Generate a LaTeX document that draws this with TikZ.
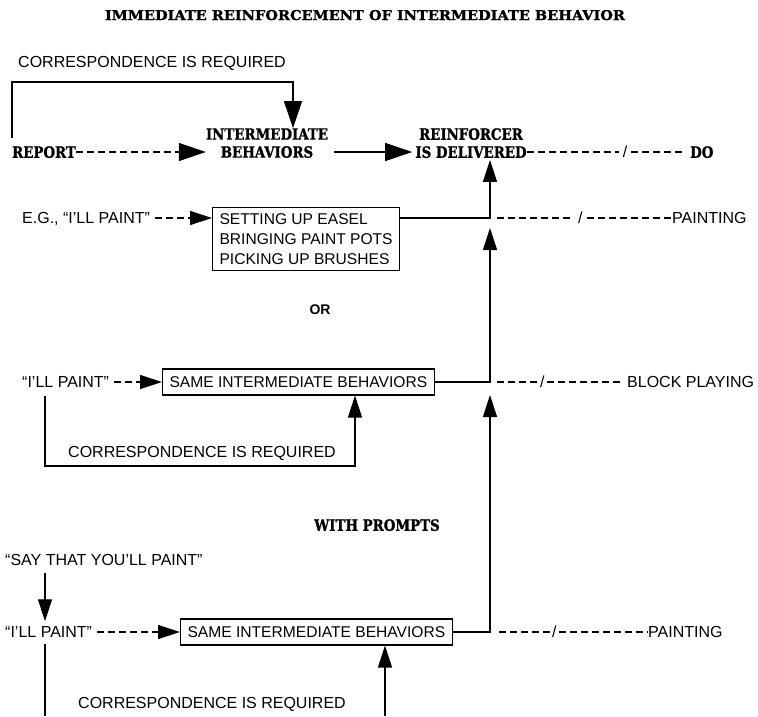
\documentclass[tikz,border=0pt]{standalone}
\usepackage{fontspec}
\setmainfont{Liberation Serif}
\setsansfont{Liberation Sans}
\newfontfamily\slab[FakeStretch=0.86,FakeBold=1.2]{DejaVu Serif}
\usetikzlibrary{arrows.meta}
\begin{document}
\begin{tikzpicture}[x=1pt,y={(0pt,-1pt)},
  every node/.style={inner sep=0pt, text depth=0pt},
  lbl/.style={font=\sffamily\fontsize{16}{20}\selectfont},
  hd/.style={font=\slab\bfseries\fontsize{15.5}{18}\selectfont, align=center},
  box/.style={draw, line width=1.1pt, font=\sffamily\fontsize{15.6}{20}\selectfont,
    align=left, inner xsep=7pt, inner ysep=6pt},
  onebox/.style={box, minimum height=26pt},
  wire/.style={line width=1.2pt},
  dashline/.style={line width=1.3pt, dash pattern=on 7pt off 4pt},
  bighead/.style={-{Triangle[length=27pt,width=18pt]}},
  head/.style={-{Triangle[length=22pt,width=14pt]}},
]
\useasboundingbox (0,0) rectangle (758,716);

% title
\node[font=\slab\bfseries\fontsize{12}{14}\selectfont] (title) at (365,15)
  {\resizebox{520pt}{10pt}{IMMEDIATE REINFORCEMENT OF INTERMEDIATE BEHAVIOR}};

% ---- general scheme ----
\node[lbl, anchor=west] (corrtop) at (18,62) {CORRESPONDENCE IS REQUIRED};
\node[hd, anchor=west] (report) at (12,152) {REPORT};
\node[hd] (ib) at (267,143) {INTERMEDIATE\\BEHAVIORS};
\node[hd] (reinf) at (471,143) {REINFORCER\\IS DELIVERED};
\node[font=\sffamily\fontsize{16}{18}\selectfont] (sl1) at (625,152) {/};
\node[hd, anchor=west] (do) at (690,152) {DO};

\coordinate (ctop) at (293,82);
\draw[wire, bighead] ([yshift=8pt]report.north west) |- (ctop) -- (ctop |- ib.north);
\draw[dashline, bighead] (report.east) -- (ib.west |- report);
\draw[wire, bighead] ([xshift=6pt]ib.east |- report) -- ([xshift=-3pt]reinf.west |- report);
\draw[dashline] (reinf.east |- report) -- ([xshift=-4pt]sl1.west);
\draw[dashline] ([xshift=4pt]sl1.east) -- ([xshift=-6pt]do.west);

% ---- example ----
\node[lbl, anchor=west] (eg) at (22,218) {E.G., “I’LL PAINT”};
\node[box, anchor=north west] (box1) at (212,207)
  {SETTING UP EASEL\\BRINGING PAINT POTS\\PICKING UP BRUSHES};
\coordinate (j1) at (490,218);
\draw[dashline, head] ([xshift=5pt]eg.east) -- (box1.west |- eg);
\draw[wire, head] (j1 -| box1.east) -- (j1) -- ([yshift=-2pt]j1 |- reinf.south);
\node[lbl, anchor=west] (sl2) at (578,218) {/};
\node[lbl, anchor=west] (paint1) at (672,218) {PAINTING};
\draw[dashline] ([xshift=7pt]j1) -- ([xshift=-4pt]sl2.west);
\draw[dashline] ([xshift=4pt]sl2.east) -- (paint1.west);

\node[font=\sffamily\bfseries\fontsize{14}{16}\selectfont] (or) at (320,310) {OR};

% ---- alternative ----
\node[lbl, anchor=west] (ip2) at (22,382) {“I’LL PAINT”};
\node[onebox, anchor=west] (box2) at (162,382) {SAME INTERMEDIATE BEHAVIORS};
\coordinate (j2) at (490,382);
\draw[dashline, head] ([xshift=5pt]ip2.east) -- (box2.west);
\draw[wire, head] (box2.east) -- (j2) -- ([yshift=-10pt]j1);
\node[lbl, anchor=west] (sl3) at (540,382) {/};
\node[lbl, anchor=west] (block) at (627,382) {BLOCK PLAYING};
\draw[dashline] ([xshift=7pt]j2) -- ([xshift=-2pt]sl3.west);
\draw[dashline] ([xshift=2pt]sl3.east) -- ([xshift=-4pt]block.west);

\coordinate (b2) at (45,466);
\coordinate (b2r) at (355,466);
\draw[wire, head] (b2 |- box2.south) -- (b2) -- (b2r) -- (b2r |- box2.south);
\node[lbl, anchor=west] (corr2) at (68,452) {CORRESPONDENCE IS REQUIRED};

% ---- with prompts ----
\node[hd] (prompts) at (377,525) {WITH PROMPTS};
\node[lbl, anchor=west] (say) at (5,560) {“SAY THAT YOU’LL PAINT”};
\node[lbl, anchor=west] (ip3) at (5,632) {“I’LL PAINT”};
\draw[wire, head] ([yshift=-7pt]say.south -| b2) -- ([yshift=5pt]ip3.north -| b2);
\node[onebox, anchor=west] (box3) at (180,632) {SAME INTERMEDIATE BEHAVIORS};
\coordinate (j3) at (490,632);
\draw[dashline, head] ([xshift=5pt]ip3.east) -- (box3.west);
\draw[wire, head] (box3.east) -- (j3) -- ([yshift=-13pt]j2);
\node[lbl, anchor=west] (sl4) at (552,632) {/};
\node[lbl, anchor=west] (paint3) at (648,632) {PAINTING};
\draw[dashline] ([xshift=9pt]j3) -- ([xshift=-2pt]sl4.west);
\draw[dashline] ([xshift=2pt]sl4.east) -- (paint3.west);

\coordinate (b3) at (45,716);
\coordinate (b3r) at (385,716);
\draw[wire] ([yshift=-6pt]ip3.south -| b3) -- (b3);
\draw[wire, head] (b3r) -- (b3r |- box3.south);
\node[lbl, anchor=west] (corr3) at (78,703) {CORRESPONDENCE IS REQUIRED};
\end{tikzpicture}
\end{document}
